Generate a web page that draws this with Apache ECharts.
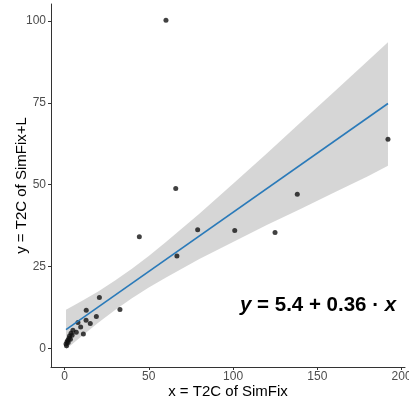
<!DOCTYPE html>
<html>
<head>
<meta charset="utf-8">
<script src="https://cdn.jsdelivr.net/npm/echarts@6/dist/echarts.min.js"></script>
<style>
html,body{margin:0;padding:0;background:#fff;}
#chart{width:409px;height:400px;}
</style>
</head>
<body>
<div id="chart"></div>
<script>
// Observed points (x = T2C of SimFix, y = T2C of SimFix+L)
var pointsX = [60.2, 66.0, 44.4, 79.0, 66.7, 101.0, 124.9, 138.1, 191.9, 32.9, 20.7, 12.9, 18.9, 12.8, 15.3, 8.0, 9.6, 7.0, 11.2, 3.9, 2.7, 0.9, 1.5, 2.0, 3.0, 4.5, 1.2, 2.2, 5.0, 3.5];
var pointsY = [100.2, 48.8, 34.1, 36.2, 28.2, 36.0, 35.4, 47.1, 63.9, 11.9, 15.5, 11.6, 9.7, 8.6, 7.6, 7.9, 6.5, 4.9, 4.4, 4.6, 3.1, 1.3, 2.0, 2.5, 3.8, 4.0, 0.8, 1.8, 5.5, 2.8];

// Fitted line endpoints
var lineX = [0.9, 191.9];
var lineY = [5.7, 74.8];

// Confidence band
var bandX =     [0.9,  10,   20,   30,   40,   50,   60,   80,   100,  120,  140,  160,  180,  191.9];
var bandLower = [-0.3, 3.6,  7.8,  11.7, 15.3, 18.6, 21.6, 27.3, 32.5, 37.7, 42.6, 47.6, 52.6, 55.8];
var bandUpper = [11.8, 14.4, 17.4, 20.7, 24.3, 28.2, 32.4, 41.1, 50.3, 59.5, 69.0, 78.4, 87.9, 93.5];

var xTicks = [0, 50, 100, 150, 200];
var yTicks = [0, 25, 50, 75, 100];

var FONT = 'Liberation Sans, Arial, sans-serif';
var chart = echarts.init(document.getElementById('chart'), null, {renderer: 'canvas'});

var scatterData = pointsX.map(function (x, i) { return [x, pointsY[i]]; });
var lineData = lineX.map(function (x, i) { return [x, lineY[i]]; });

var option = {
  animation: false,
  backgroundColor: '#fff',
  grid: {left: 51, right: 4, top: 4, bottom: 33, containLabel: false, outerBoundsMode: 'none'},
  xAxis: {
    type: 'value', min: -8, max: 202,
    splitLine: {show: false},
    axisLine: {show: true, onZero: false, lineStyle: {color: '#333', width: 1}},
    axisTick: {show: true, length: 3, customValues: xTicks, lineStyle: {color: '#333'}},
    axisLabel: {customValues: xTicks, color: '#4d4d4d', fontSize: 12, margin: 4, fontFamily: FONT},
    name: 'x = T2C of SimFix', nameLocation: 'middle', nameGap: 17, nameMoveOverlap: false,
    nameTextStyle: {color: '#000', fontSize: 15, fontFamily: FONT, verticalAlign: 'top'}
  },
  yAxis: {
    type: 'value', min: -5.7, max: 105.2,
    splitLine: {show: false},
    axisLine: {show: true, onZero: false, lineStyle: {color: '#333', width: 1}},
    axisTick: {show: true, length: 3, customValues: yTicks, lineStyle: {color: '#333'}},
    axisLabel: {customValues: yTicks, color: '#4d4d4d', fontSize: 12, margin: 5, fontFamily: FONT},
    name: 'y = T2C of SimFix+L', nameLocation: 'middle', nameGap: 22, nameMoveOverlap: false,
    nameTextStyle: {color: '#000', fontSize: 15, fontFamily: FONT}
  },
  series: [
    {
      type: 'scatter', data: scatterData, symbolSize: 5,
      itemStyle: {color: '#111'}, silent: true
    },
    {
      type: 'custom', data: [0], silent: true,
      renderItem: function (params, api) {
        var pts = [];
        for (var i = 0; i < bandX.length; i++) pts.push(api.coord([bandX[i], bandUpper[i]]));
        for (var j = bandX.length - 1; j >= 0; j--) pts.push(api.coord([bandX[j], bandLower[j]]));
        return {type: 'polygon', shape: {points: pts}, style: {fill: 'rgba(153,153,153,0.4)', stroke: null}};
      }
    },
    {
      type: 'line', data: lineData, showSymbol: false, silent: true,
      lineStyle: {color: '#2a7ab9', width: 1.6}
    }
  ],
  graphic: [{
    type: 'text', left: 240, top: 295,
    style: {
      text: '{i|y} = 5.4 + 0.36 · {i|x}',
      fontFamily: FONT, fontSize: 20.5, fontWeight: 'bold', fill: '#000',
      rich: {i: {fontStyle: 'italic', fontWeight: 'bold', fontSize: 20.5, fontFamily: FONT, fill: '#000'}}
    }
  }]
};
chart.setOption(option);
</script>
</body>
</html>
